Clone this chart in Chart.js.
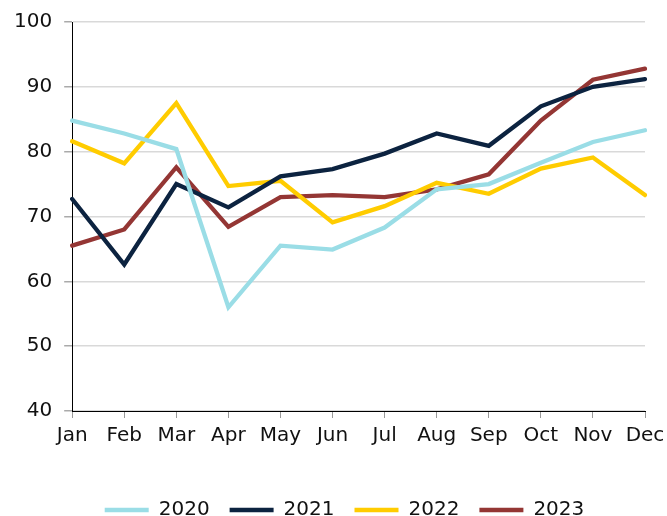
<!DOCTYPE html>
<html>
<head>
<meta charset="utf-8">
<script src="https://cdn.jsdelivr.net/npm/chart.js@4"></script>
<style>
  html, body { margin: 0; padding: 0; background: #fff; }
  #wrap { width: 667px; height: 516px; }
</style>
</head>
<body>
<div id="wrap"><canvas id="chart"></canvas></div>
<script>
const MONTHS = ['Jan', 'Feb', 'Mar', 'Apr', 'May', 'Jun', 'Jul', 'Aug', 'Sep', 'Oct', 'Nov', 'Dec'];
const Y_TICKS = [40, 50, 60, 70, 80, 90, 100];

const values2020 = [84.8, 82.8, 80.4, 56.0, 65.5, 64.9, 68.3, 74.2, 75.0, 78.3, 81.5, 83.3];
const values2021 = [72.7, 62.6, 75.0, 71.4, 76.2, 77.3, 79.7, 82.8, 80.9, 87.0, 90.0, 91.2];
const values2022 = [81.6, 78.2, 87.5, 74.7, 75.5, 69.1, 71.6, 75.2, 73.5, 77.4, 79.1, 73.3];
const values2023 = [65.5, 68.0, 77.6, 68.4, 73.0, 73.3, 73.0, 74.2, 76.5, 84.8, 91.1, 92.8];

const FONT = 'DejaVu Sans, Verdana, sans-serif';

function makeSeries(label, data, color) {
    return {
        label: label,
        data: data,
        borderColor: color,
        backgroundColor: color,
        borderWidth: 4.3,
        borderCapStyle: 'round',
        pointRadius: 0,
        pointHoverRadius: 0,
        tension: 0,
        fill: false
    };
}

// the legend in the original sits a little right of centre
const shiftLegend = {
    id: 'shiftLegend',
    afterLayout(chart) {
        chart.legend.left += 10;
        chart.legend.right += 10;
    }
};

const ctx = document.getElementById('chart').getContext('2d');

new Chart(ctx, {
    type: 'line',
    data: {
        labels: MONTHS,
        datasets: [
            makeSeries('2020', values2020, '#9adde6'),
            makeSeries('2021', values2021, '#0c2340'),
            makeSeries('2022', values2022, '#ffcc00'),
            makeSeries('2023', values2023, '#943634')
        ]
    },
    plugins: [shiftLegend],
    options: {
        responsive: true,
        maintainAspectRatio: false,
        animation: false,
        layout: {
            padding: { left: 2, right: 0, top: 0, bottom: -14 }
        },
        scales: {
            x: {
                offset: false,
                grid: {
                    drawOnChartArea: false,
                    drawTicks: true,
                    tickLength: 7,
                    tickColor: '#999'
                },
                border: { color: '#000', width: 1 },
                ticks: {
                    color: '#111',
                    font: { family: FONT, size: 20 },
                    padding: 6,
                    maxRotation: 0,
                    autoSkip: false
                },
                // leave room between month labels and the legend,
                // and let "Dec" run closer to the edge
                afterFit: (axis) => {
                    axis.height += 26;
                    axis.paddingRight = 22;
                }
            },
            y: {
                min: 40,
                max: 100,
                afterBuildTicks: (axis) => {
                    axis.ticks = Y_TICKS.map(v => ({ value: v }));
                },
                afterFit: (axis) => {
                    axis.paddingTop = Math.max(0, axis.paddingTop - 2);
                },
                grid: {
                    color: '#d9d9d9',
                    lineWidth: 1.5,
                    tickLength: 8,
                    tickColor: '#aaa'
                },
                border: { color: '#000', width: 1 },
                ticks: {
                    color: '#111',
                    font: { family: FONT, size: 20 },
                    padding: 12
                }
            }
        },
        plugins: {
            tooltip: { enabled: false },
            legend: {
                position: 'bottom',
                labels: {
                    usePointStyle: true,
                    pointStyle: 'line',
                    pointStyleWidth: 44,
                    boxHeight: 4,
                    padding: 20,
                    color: '#111',
                    font: { family: FONT, size: 20 }
                }
            }
        }
    }
});
</script>
</body>
</html>
